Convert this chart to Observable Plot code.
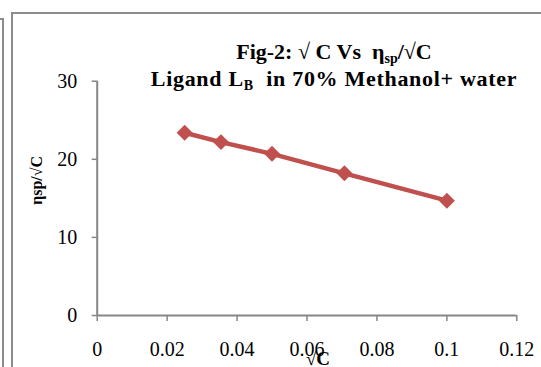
<!DOCTYPE html>
<html><head><meta charset="utf-8">
<script src="https://cdn.jsdelivr.net/npm/d3@7"></script>
<script src="https://cdn.jsdelivr.net/npm/@observablehq/plot@0.6"></script>
<style>
html,body{margin:0;padding:0;background:#fff;}
#wrap{position:relative;width:541px;height:367px;overflow:hidden;font-family:"Liberation Serif","Times New Roman",serif;}
#frame1{position:absolute;left:11px;top:12px;width:600px;height:400px;border-left:2px solid #8c8c8c;border-top:2px solid #8c8c8c;}
#frame2{position:absolute;left:-50px;top:18px;width:52px;height:400px;border-right:2px solid #8c8c8c;border-top:2px solid #8c8c8c;}
#chart{position:absolute;left:0;top:0;}
.t{position:absolute;left:84px;width:500px;text-align:center;font-weight:bold;font-size:22px;white-space:nowrap;line-height:1;}
.t sub{font-size:14px;vertical-align:baseline;position:relative;top:4px;}
</style></head>
<body>
<div id="wrap">
<div id="frame1"></div>
<div id="frame2"></div>
<div id="chart"></div>
<div class="t" style="top:41px;">Fig-2: √ C Vs&nbsp; η<sub>sp</sub>/√C</div>
<div class="t" style="top:68px;letter-spacing:0.7px;">Ligand L<sub>B</sub>&nbsp; in 70% Methanol+ water</div>
</div>
<script>
const sqrtC = [0.025, 0.0354, 0.05, 0.0707, 0.1];
const etaSp = [23.4, 22.2, 20.7, 18.2, 14.7];
const xTicks = [0, 0.02, 0.04, 0.06, 0.08, 0.1, 0.12];
const yTicks = [0, 10, 20, 30];
const xLabel = "√C";
const yLabel = "ηsp/√C";

const data = sqrtC.map((x, i) => ({x, y: etaSp[i]}));
const red = "#c0504d";
const gray = "#868686";
const plot = Plot.plot({
  width: 541, height: 367,
  marginLeft: 96.7, marginRight: 24.7, marginTop: 80.7, marginBottom: 52,
  style: {fontFamily: "'Liberation Serif','Times New Roman',serif", fontSize: "20px", color: "black", background: "transparent"},
  x: {domain: [0, 0.12]},
  y: {domain: [0, 30]},
  marks: [
    Plot.axisX({ticks: xTicks, tickFormat: d3.format("~g"), tickSize: 6, tickPadding: 20, stroke: gray, strokeWidth: 1.5, label: null, fontSize: 20}),
    Plot.axisY({ticks: yTicks, tickSize: 5, tickPadding: 15, stroke: gray, strokeWidth: 1.5, label: null, fontSize: 20}),
    Plot.ruleX([0], {stroke: gray, strokeWidth: 2}),
    Plot.ruleY([0], {stroke: gray, strokeWidth: 2}),
    Plot.line(data, {x: "x", y: "y", stroke: red, strokeWidth: 4.5}),
    Plot.dot(data, {x: "x", y: "y", symbol: "diamond2", r: 7.2, fill: red, stroke: "none"}),
    Plot.text([xLabel], {frameAnchor: "bottom", dx: 11, dy: 49, fontWeight: "bold", fontSize: 19}),
    Plot.text([yLabel], {frameAnchor: "left", textAnchor: "middle", rotate: -90, dx: -60, dy: -18, fontWeight: "bold", fontSize: 16})
  ]
});
document.getElementById("chart").appendChild(plot);
</script>
</body></html>
